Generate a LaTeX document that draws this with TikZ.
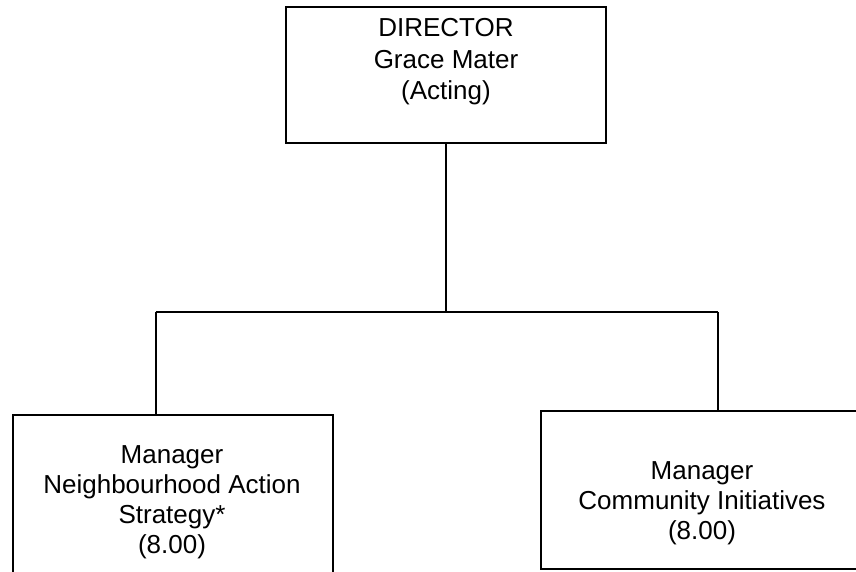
\documentclass[tikz,border=0pt]{standalone}
\usepackage{fontspec}
\setmainfont{Liberation Sans}
\begin{document}
\begin{tikzpicture}[x=1pt,y=-1pt,
  orgbox/.style={draw=black, line width=2pt, fill=none, inner sep=0pt},
  wire/.style={draw=black, line width=1.7pt},
  caption/.style={inner sep=0pt, align=center, text=black},
  bigtxt/.style={font=\fontsize{26}{31.5}\selectfont},
  smalltxt/.style={font=\fontsize{26}{30}\selectfont}]
  \useasboundingbox (0,0) rectangle (856,571);
  % boxes (the lower two run past the page edge)
  \node[orgbox, minimum width=320pt, minimum height=136pt] (dir) at (446,75) {};
  \node[orgbox, minimum width=320pt, minimum height=220pt] (nas) at (172.7,525) {};
  \node[orgbox, minimum width=322pt, minimum height=158pt] (ci) at (702,490) {};
  % box captions
  \node[caption, bigtxt, anchor=north] (dirtext) at (446,18.6) {DIRECTOR\\Grace Mater\\(Acting)};
  \node[caption, smalltxt, anchor=north] (nastext) at (172,445) {Manager\\Neighbourhood Action\\Strategy*\\(8.00)};
  \node[caption, smalltxt, anchor=north] (citext) at (702,461) {Manager\\Community Initiatives\\(8.00)};
  % connector junctions
  \coordinate (jc) at (446,312);
  \coordinate (jl) at (155.7,312);
  \coordinate (jr) at (718,312);
  \draw[wire] (dir.south) -- (jc);
  \draw[wire] (jl) -- (jr);
  \draw[wire] (jl) -- (jl |- nas.north);
  \draw[wire] (jr) -- (jr |- ci.north);
\end{tikzpicture}
\end{document}
